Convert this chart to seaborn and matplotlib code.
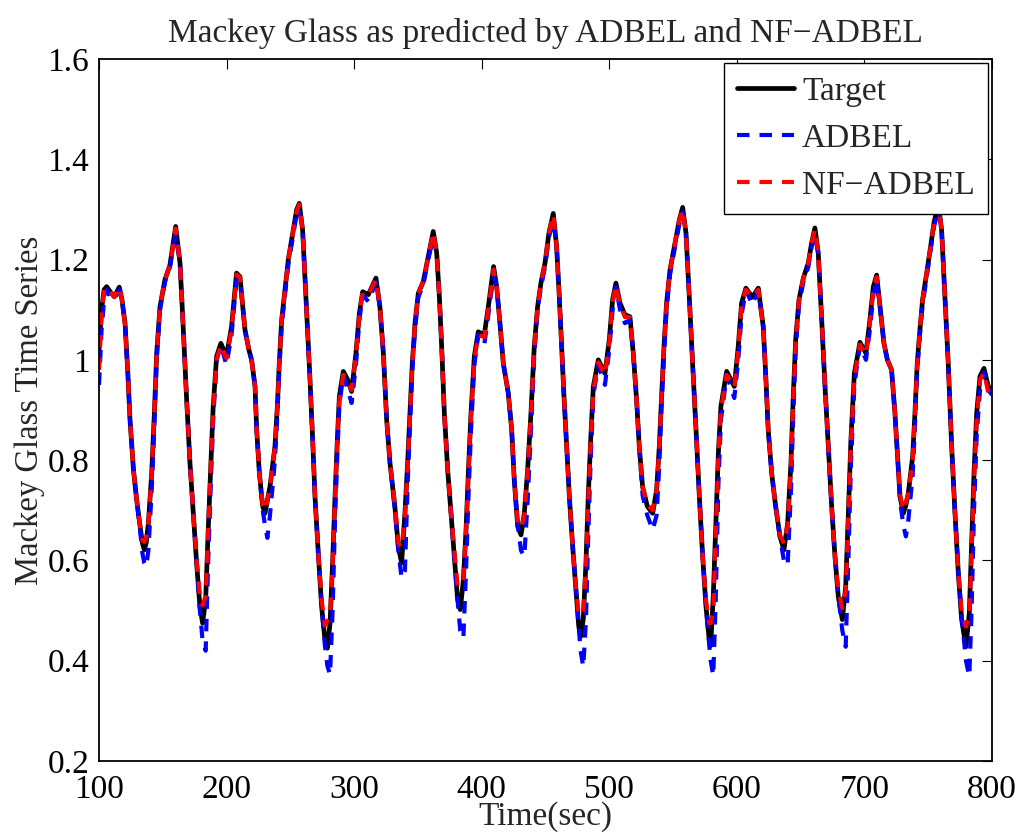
import matplotlib
matplotlib.use("Agg")
import matplotlib.pyplot as plt
import seaborn as sns
import pandas as pd

time = [100.0, 102.0, 104.0, 106.0, 109.0, 112.0, 115.9, 118.0, 120.4, 122.6,
        124.3, 127.0, 129.5, 132.2, 134.0, 135.5, 137.0, 138.7, 141.3, 143.4,
        145.2, 147.8, 151.7, 155.6, 158.2, 160.1, 163.5, 166.1, 168.7, 171.3,
        173.9, 176.5, 179.1, 181.2, 183.6, 185.6, 187.7, 189.5, 192.2, 195.5,
        199.9, 203.9, 207.8, 210.5, 214.4, 217.5, 219.6, 222.3, 223.6, 225.7,
        228.3, 230.1, 232.0, 234.0, 237.9, 239.8, 241.3, 243.2, 245.8, 248.4,
        252.3, 254.9, 257.0, 259.6, 261.5, 263.5, 265.4, 267.5, 269.3, 271.9,
        274.5, 277.1, 279.0, 281.1, 283.1, 285.0, 286.8, 288.4, 291.5, 295.0,
        298.0, 301.4, 304.1, 306.7, 311.1, 317.1, 320.2, 322.9, 325.5, 328.1,
        332.0, 334.6, 337.2, 339.8, 341.9, 343.8, 345.6, 347.7, 350.3, 354.2,
        358.1, 362.0, 364.7, 366.8, 368.6, 370.7, 373.3, 375.9, 378.5, 381.1,
        383.2, 385.6, 387.7, 389.5, 391.6, 394.2, 397.3, 402.0, 405.2, 409.3,
        411.7, 414.3, 416.9, 420.8, 423.5, 425.5, 428.2, 430.8, 433.4, 436.0,
        438.6, 441.2, 443.8, 446.4, 449.6, 452.7, 456.1, 458.7, 460.8, 462.6,
        464.5, 466.6, 468.7, 471.3, 473.9, 476.0, 477.5, 479.6, 481.7, 483.5,
        485.4, 487.5, 491.4, 496.6, 500.0, 502.6, 505.2, 508.4, 512.3, 516.2,
        518.8, 521.4, 523.5, 526.1, 529.8, 534.0, 537.1, 539.2, 541.0, 542.9,
        544.9, 547.6, 551.5, 554.9, 557.5, 560.1, 562.7, 565.3, 568.0, 570.6,
        573.2, 575.8, 578.4, 579.5, 581.5, 583.4, 585.5, 587.5, 592.0, 598.0,
        601.1, 603.7, 607.1, 612.1, 616.8, 620.7, 622.8, 624.6, 627.3, 630.4,
        633.8, 636.9, 639.8, 642.4, 644.2, 646.1, 648.7, 652.1, 656.0, 658.6,
        661.2, 663.8, 666.5, 669.1, 671.7, 674.3, 676.9, 679.5, 682.7, 685.3,
        687.4, 689.4, 692.1, 696.5, 701.2, 704.3, 707.0, 709.6, 712.2, 715.3,
        718.0, 721.3, 723.9, 725.8, 727.9, 730.5, 732.5, 734.4, 737.8, 739.6,
        741.4, 743.5, 745.6, 748.8, 751.9, 754.5, 757.9, 760.5, 763.1, 765.7,
        768.4, 771.0, 773.6, 776.2, 779.6, 782.2, 784.0, 785.9, 788.0, 790.6,
        793.7, 797.1, 800.0]

target = [1.02, 1.10, 1.14, 1.146, 1.135, 1.126, 1.145, 1.12, 1.073, 0.973,
          0.880, 0.781, 0.721, 0.668, 0.635, 0.621, 0.635, 0.674, 0.774, 0.894,
          1.013, 1.106, 1.16, 1.189, 1.233, 1.266, 1.193, 1.06, 0.92, 0.794,
          0.694, 0.595, 0.508, 0.475, 0.522, 0.661, 0.794, 0.907, 1.007, 1.033,
          1.007, 1.066, 1.173, 1.166, 1.06, 1.02, 1.0, 0.947, 0.860, 0.774,
          0.708, 0.694, 0.72, 0.747, 0.827, 0.907, 0.993, 1.08, 1.14, 1.2,
          1.259, 1.299, 1.312, 1.259, 1.16, 1.06, 0.96, 0.84, 0.727, 0.614,
          0.508, 0.442, 0.425, 0.475, 0.595, 0.727, 0.84, 0.927, 0.977, 0.96,
          0.937, 1.013, 1.093, 1.136, 1.13, 1.163, 1.106, 1.013, 0.88, 0.794,
          0.705, 0.628, 0.595, 0.694, 0.794, 0.894, 0.993, 1.073, 1.133, 1.156,
          1.206, 1.256, 1.213, 1.126, 1.027, 0.894, 0.781, 0.694, 0.608, 0.522,
          0.502, 0.561, 0.661, 0.774, 0.894, 1.007, 1.056, 1.05, 1.106, 1.186,
          1.146, 1.073, 0.993, 0.934, 0.86, 0.761, 0.668, 0.651, 0.694, 0.781,
          0.894, 1.027, 1.106, 1.153, 1.193, 1.253, 1.292, 1.226, 1.126, 1.027,
          0.927, 0.827, 0.727, 0.628, 0.541, 0.47, 0.448, 0.482, 0.595, 0.727,
          0.84, 0.947, 1.0, 0.973, 1.04, 1.12, 1.153, 1.113, 1.09, 1.086,
          1.013, 0.92, 0.827, 0.747, 0.708, 0.694, 0.741, 0.827, 0.927, 1.027,
          1.113, 1.179, 1.233, 1.279, 1.304, 1.253, 1.126, 0.993, 0.86, 0.727,
          0.608, 0.508, 0.44, 0.43, 0.528, 0.661, 0.814, 0.907, 0.977, 0.947,
          1.027, 1.113, 1.143, 1.125, 1.143, 1.066, 0.96, 0.86, 0.774, 0.708,
          0.648, 0.621, 0.674, 0.794, 0.927, 1.04, 1.12, 1.163, 1.193, 1.233,
          1.263, 1.213, 1.08, 0.947, 0.827, 0.708, 0.608, 0.528, 0.482, 0.548,
          0.694, 0.84, 0.973, 1.035, 1.013, 1.08, 1.146, 1.169, 1.106, 1.033,
          1.0, 0.98, 0.894, 0.814, 0.727, 0.694, 0.71, 0.734, 0.807, 0.894,
          0.993, 1.06, 1.12, 1.173, 1.226, 1.273, 1.312, 1.259, 1.126, 0.993,
          0.827, 0.694, 0.575, 0.482, 0.428, 0.495, 0.628, 0.774, 0.894, 0.967,
          0.983, 0.947, 0.94]

adbel = [0.95, 1.06, 1.12, 1.14, 1.125, 1.12, 1.14, 1.12, 1.07, 0.973,
         0.880, 0.781, 0.721, 0.66, 0.615, 0.595, 0.588, 0.62, 0.74, 0.87,
         1.0, 1.10, 1.155, 1.185, 1.225, 1.25, 1.193, 1.06, 0.92, 0.794,
         0.694, 0.60, 0.50, 0.44, 0.42, 0.60, 0.76, 0.88, 1.0, 1.03,
         0.99, 1.05, 1.16, 1.16, 1.06, 1.02, 1.0, 0.947, 0.860, 0.774,
         0.70, 0.67, 0.645, 0.69, 0.80, 0.89, 0.98, 1.07, 1.13, 1.19,
         1.25, 1.29, 1.30, 1.259, 1.16, 1.06, 0.96, 0.84, 0.727, 0.614,
         0.51, 0.43, 0.39, 0.372, 0.50, 0.68, 0.81, 0.91, 0.97, 0.94,
         0.914, 0.99, 1.08, 1.13, 1.116, 1.155, 1.106, 1.013, 0.88, 0.794,
         0.70, 0.62, 0.565, 0.58, 0.75, 0.87, 0.98, 1.06, 1.125, 1.15,
         1.20, 1.245, 1.213, 1.126, 1.027, 0.894, 0.781, 0.694, 0.61, 0.52,
         0.46, 0.445, 0.58, 0.72, 0.86, 0.99, 1.05, 1.03, 1.09, 1.17,
         1.146, 1.073, 0.993, 0.934, 0.86, 0.761, 0.67, 0.62, 0.608, 0.72,
         0.86, 1.01, 1.10, 1.145, 1.185, 1.245, 1.28, 1.226, 1.126, 1.027,
         0.927, 0.827, 0.727, 0.628, 0.54, 0.47, 0.42, 0.388, 0.48, 0.65,
         0.80, 0.93, 0.99, 0.95, 1.02, 1.10, 1.145, 1.10, 1.073, 1.08,
         1.013, 0.92, 0.827, 0.73, 0.69, 0.661, 0.69, 0.79, 0.91, 1.01,
         1.10, 1.17, 1.225, 1.27, 1.295, 1.253, 1.126, 0.993, 0.86, 0.727,
         0.608, 0.51, 0.43, 0.40, 0.37, 0.52, 0.75, 0.88, 0.97, 0.924,
         1.0, 1.09, 1.14, 1.11, 1.14, 1.066, 0.96, 0.86, 0.774, 0.708,
         0.645, 0.60, 0.59, 0.74, 0.89, 1.02, 1.11, 1.155, 1.185, 1.225,
         1.25, 1.213, 1.08, 0.947, 0.827, 0.708, 0.608, 0.53, 0.46, 0.428,
         0.60, 0.79, 0.95, 1.03, 1.0, 1.06, 1.13, 1.16, 1.106, 1.033,
         1.0, 0.98, 0.894, 0.814, 0.72, 0.67, 0.648, 0.68, 0.77, 0.87,
         0.98, 1.05, 1.11, 1.165, 1.22, 1.265, 1.30, 1.259, 1.126, 0.993,
         0.827, 0.694, 0.575, 0.49, 0.40, 0.369, 0.50, 0.70, 0.85, 0.94,
         0.975, 0.94, 0.93]

nf_adbel = [0.98, 1.09, 1.14, 1.145, 1.135, 1.125, 1.145, 1.12, 1.07, 0.973,
            0.880, 0.781, 0.721, 0.668, 0.64, 0.637, 0.645, 0.675, 0.774, 0.894,
            1.013, 1.106, 1.16, 1.189, 1.23, 1.262, 1.193, 1.06, 0.92, 0.794,
            0.694, 0.60, 0.53, 0.51, 0.53, 0.66, 0.794, 0.90, 1.0, 1.03,
            1.003, 1.06, 1.17, 1.165, 1.06, 1.02, 1.0, 0.947, 0.860, 0.774,
            0.71, 0.70, 0.72, 0.747, 0.827, 0.907, 0.993, 1.08, 1.14, 1.2,
            1.259, 1.295, 1.31, 1.259, 1.16, 1.06, 0.96, 0.84, 0.727, 0.614,
            0.52, 0.47, 0.48, 0.49, 0.59, 0.727, 0.84, 0.92, 0.97, 0.955,
            0.94, 1.01, 1.09, 1.135, 1.13, 1.16, 1.106, 1.013, 0.88, 0.794,
            0.71, 0.635, 0.625, 0.69, 0.79, 0.89, 0.993, 1.073, 1.133, 1.156,
            1.206, 1.255, 1.213, 1.126, 1.027, 0.894, 0.781, 0.694, 0.62, 0.55,
            0.548, 0.56, 0.66, 0.77, 0.89, 1.0, 1.05, 1.045, 1.10, 1.18,
            1.146, 1.073, 0.993, 0.934, 0.86, 0.761, 0.675, 0.665, 0.69, 0.78,
            0.89, 1.027, 1.106, 1.153, 1.193, 1.253, 1.29, 1.226, 1.126, 1.027,
            0.927, 0.827, 0.727, 0.628, 0.545, 0.49, 0.495, 0.50, 0.59, 0.72,
            0.835, 0.94, 0.995, 0.97, 1.035, 1.115, 1.15, 1.11, 1.085, 1.085,
            1.013, 0.92, 0.827, 0.747, 0.71, 0.70, 0.74, 0.827, 0.927, 1.027,
            1.113, 1.179, 1.233, 1.279, 1.30, 1.253, 1.126, 0.993, 0.86, 0.727,
            0.608, 0.52, 0.475, 0.475, 0.50, 0.65, 0.81, 0.90, 0.97, 0.945,
            1.02, 1.11, 1.14, 1.125, 1.14, 1.066, 0.96, 0.86, 0.774, 0.708,
            0.65, 0.634, 0.67, 0.79, 0.92, 1.035, 1.12, 1.163, 1.193, 1.233,
            1.26, 1.213, 1.08, 0.947, 0.827, 0.708, 0.608, 0.54, 0.505, 0.54,
            0.69, 0.835, 0.965, 1.03, 1.01, 1.075, 1.14, 1.165, 1.106, 1.033,
            1.0, 0.98, 0.894, 0.814, 0.73, 0.70, 0.715, 0.735, 0.80, 0.89,
            0.993, 1.06, 1.12, 1.173, 1.226, 1.273, 1.31, 1.259, 1.126, 0.993,
            0.827, 0.694, 0.575, 0.50, 0.468, 0.49, 0.62, 0.76, 0.88, 0.96,
            0.975, 0.935, 0.92]

x_ticks = [100, 200, 300, 400, 500, 600, 700, 800]
y_ticks = [0.2, 0.4, 0.6, 0.8, 1.0, 1.2, 1.4, 1.6]
y_tick_labels = ["0.2", "0.4", "0.6", "0.8", "1", "1.2", "1.4", "1.6"]

sns.set_style("white")
plt.rcParams["font.family"] = ["Liberation Serif", "DejaVu Serif"]

df = pd.DataFrame({"time": time, "Target": target, "ADBEL": adbel,
                   "NF-ADBEL": nf_adbel})

fig = plt.figure(figsize=(10.25, 8.4), dpi=100)
ax = fig.add_axes([0.0966, 0.094, 0.8712, 0.8358])

sns.lineplot(data=df, x="time", y="Target", ax=ax, color="black",
             linewidth=3.4, label="Target", sort=False)
sns.lineplot(data=df, x="time", y="ADBEL", ax=ax, color="#0000ff",
             linewidth=3.0, label="ADBEL", sort=False)
sns.lineplot(data=df, x="time", y="NF-ADBEL", ax=ax, color="#ff0000",
             linewidth=3.0, label="NF\u2212ADBEL", sort=False)
for ln in ax.lines[1:3]:
    ln.set_dashes((3.0, 2.4))

ax.set_xlim(100, 800)
ax.set_ylim(0.2, 1.6)
ax.set_xticks(x_ticks)
ax.set_yticks(y_ticks)
ax.set_yticklabels(y_tick_labels)
ax.tick_params(direction="in", length=7, width=0.8, top=True, right=True,
               labelsize=24, colors="black")
ax.tick_params(axis="x", pad=10)
ax.tick_params(axis="y", pad=7)
for s in ax.spines.values():
    s.set_linewidth(1.3)
    s.set_color("black")

ax.set_xlabel("Time(sec)", fontsize=24, labelpad=-3)
ax.set_ylabel("Mackey Glass Time Series", fontsize=23.5, labelpad=2)
ax.set_title("Mackey Glass as predicted by ADBEL and NF\u2212ADBEL",
             fontsize=24, pad=12)

leg = ax.legend(loc="upper right", fontsize=24, frameon=True, fancybox=False,
                edgecolor="black", framealpha=1.0, handlelength=1.7,
                borderaxespad=0.12, labelspacing=0.5, handletextpad=0.25,
                borderpad=0.4)
leg.get_frame().set_linewidth(1.0)

fig.savefig("out.png", dpi=100)
